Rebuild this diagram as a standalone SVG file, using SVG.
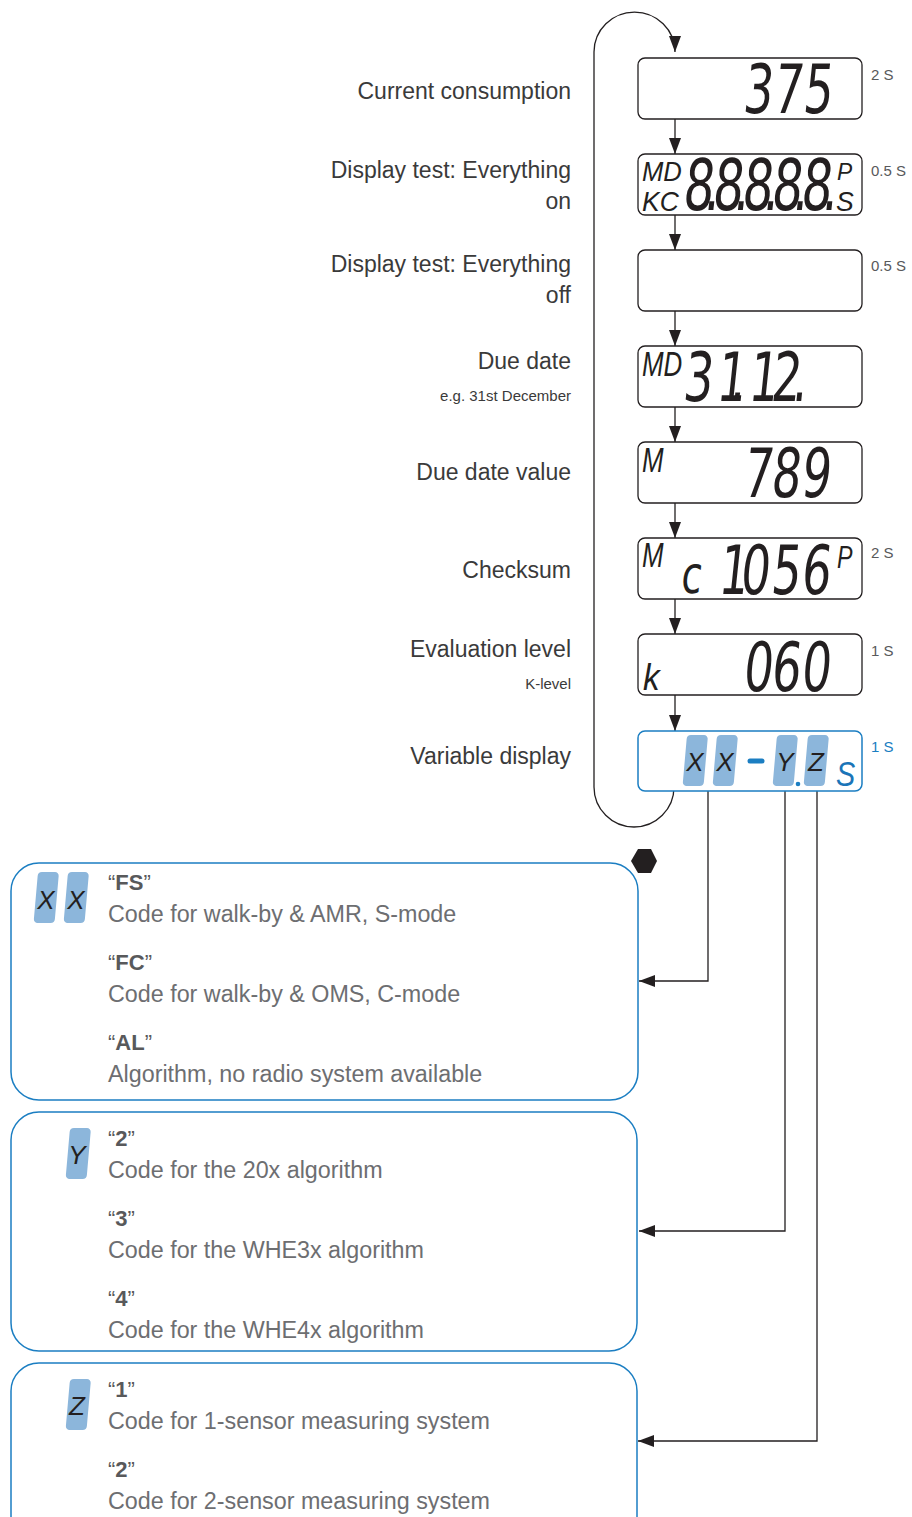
<svg xmlns="http://www.w3.org/2000/svg" width="912" height="1517" viewBox="0 0 912 1517">
<defs>
<marker id="ah" markerUnits="userSpaceOnUse" markerWidth="16" markerHeight="12" refX="16" refY="6" orient="auto"><path d="M0,0 L16,6 L0,12 z" fill="#231f20"/></marker>
</defs>
<style>
.lbl{font-family:"Liberation Sans",Arial,sans-serif;font-size:23px;fill:#3a3a3a;text-anchor:end}
.sm{font-size:15px}
.t{font-family:"Liberation Sans",Arial,sans-serif;font-size:15px;fill:#58595b}
.tb{fill:#1b7ec2}
.lcdbox{fill:#fff;stroke:#231f20;stroke-width:1.3}
.vbox{fill:#fff;stroke:#1b7ec2;stroke-width:1.5}
.lcd{font-family:"DejaVu Sans",sans-serif;font-size:68px;fill:#231f20}
.lcs{font-family:"Liberation Sans",Arial,sans-serif;font-style:italic;font-size:36px;fill:#231f20}
.hl{fill:#8cb6db}
.ltr{font-family:"Liberation Sans",Arial,sans-serif;font-style:italic;font-size:26px;fill:#231f20;text-anchor:middle}
.panel{fill:none;stroke:#1b7ec2;stroke-width:1.5}
.code{font-family:"Liberation Sans",Arial,sans-serif;font-size:22px;fill:#58595b}
.b{font-weight:bold}
.desc{font-family:"Liberation Sans",Arial,sans-serif;font-size:23.3px;fill:#6d6e71}
.conn{fill:none;stroke:#231f20;stroke-width:1.3}
</style>

<g id="connectors">
<path class="conn" d="M674,791 L674,787 A40,40 0 0 1 594,787 L594,52 A40.5,40 0 0 1 675,52" marker-end="url(#ah)"/>
<line class="conn" x1="675" y1="119" x2="675" y2="154" marker-end="url(#ah)"/>
<line class="conn" x1="675" y1="215" x2="675" y2="250" marker-end="url(#ah)"/>
<line class="conn" x1="675" y1="311" x2="675" y2="346" marker-end="url(#ah)"/>
<line class="conn" x1="675" y1="407" x2="675" y2="442" marker-end="url(#ah)"/>
<line class="conn" x1="675" y1="503" x2="675" y2="538" marker-end="url(#ah)"/>
<line class="conn" x1="675" y1="599" x2="675" y2="634" marker-end="url(#ah)"/>
<line class="conn" x1="675" y1="695" x2="675" y2="731" marker-end="url(#ah)"/>
<path class="conn" d="M708,791 V981 H639" marker-end="url(#ah)"/>
<path class="conn" d="M785,791 V1231 H639" marker-end="url(#ah)"/>
<path class="conn" d="M817,791 V1441 H638" marker-end="url(#ah)"/>
</g>

<g id="n1">
<text class="lbl" x="571" y="99">Current consumption</text>
<rect class="lcdbox" x="638" y="58" width="224" height="61" rx="7"/>
<text class="lcd" transform="translate(680,113) skewX(-6) scale(0.68,1)" x="91.1 135.2 179.3">375</text>
<text class="t" x="871" y="80">2 S</text>
</g>

<g id="n2">
<text class="lbl" x="571" y="178">Display test: Everything</text>
<text class="lbl" x="571" y="209">on</text>
<rect class="lcdbox" x="638" y="154" width="224" height="61" rx="7"/>
<text class="lcs" style="font-size:27px" transform="translate(642,181) scale(0.95,1)">MD</text>
<text class="lcs" style="font-size:27px" transform="translate(642,211) scale(0.98,1)">KC</text>
<text class="lcd" style="font-size:71px" transform="translate(680,210) skewX(-6) scale(0.68,1)" x="2.6 34.2 46.0 77.6 89.4 121.0 132.8 164.4 176.2 207.8">8.8.8.8.8.</text>
<text class="lcs" style="font-size:24px" transform="translate(837,180) scale(0.95,1)">P</text>
<text class="lcs" style="font-size:28px" transform="translate(836,211) scale(0.95,1)">S</text>
<text class="t" x="871" y="176">0.5 S</text>
</g>

<g id="n3">
<text class="lbl" x="571" y="272">Display test: Everything</text>
<text class="lbl" x="571" y="303">off</text>
<rect class="lcdbox" x="638" y="250" width="224" height="61" rx="7"/>
<text class="t" x="871" y="271">0.5 S</text>
</g>

<g id="n4">
<text class="lbl" x="571" y="369">Due date</text>
<text class="lbl sm" x="571" y="401">e.g. 31st December</text>
<rect class="lcdbox" x="638" y="346" width="224" height="61" rx="7"/>
<text class="lcs" transform="translate(642,376) scale(0.72,1)">MD</text>
<text class="lcd" transform="translate(680,401) skewX(-6) scale(0.68,1)" x="2.9 52.2 72.9 99.3 132.3 164.1">31.12.</text>
</g>

<g id="n5">
<text class="lbl" x="571" y="480">Due date value</text>
<rect class="lcdbox" x="638" y="442" width="224" height="61" rx="7"/>
<text class="lcs" transform="translate(642,472) scale(0.72,1)">M</text>
<text class="lcd" transform="translate(680,497) skewX(-6) scale(0.68,1)" x="91.1 132.3 176.4">789</text>
</g>

<g id="n6">
<text class="lbl" x="571" y="578">Checksum</text>
<rect class="lcdbox" x="638" y="538" width="224" height="61" rx="7"/>
<text class="lcs" transform="translate(642,567) scale(0.72,1)">M</text>
<text class="lcd" style="font-size:52px" transform="translate(680,593) skewX(-6) scale(0.72,1)">c</text>
<text class="lcd" transform="translate(680,594) skewX(-6) scale(0.68,1)" x="55.1 86.7 132.3 176.4">1056</text>
<text class="lcs" style="font-size:31px" transform="translate(837,568) scale(0.75,1)">P</text>
<text class="t" x="871" y="558">2 S</text>
</g>

<g id="n7">
<text class="lbl" x="571" y="657">Evaluation level</text>
<text class="lbl sm" x="571" y="689">K-level</text>
<rect class="lcdbox" x="638" y="634" width="224" height="61" rx="7"/>
<text class="lcs" style="font-size:37px" transform="translate(643,690) scale(0.9,1)">k</text>
<text class="lcd" transform="translate(680,691) skewX(-6) scale(0.68,1)" x="91.1 132.3 176.4">060</text>
<text class="t" x="871" y="656">1 S</text>
</g>

<g id="n8">
<text class="lbl" x="571" y="764">Variable display</text>
<rect class="vbox" x="638" y="731" width="224" height="60" rx="7"/>
<rect class="hl" x="0" y="0" width="21" height="51" rx="4" transform="translate(687,735) skewX(-5)"/>
<rect class="hl" x="0" y="0" width="21" height="51" rx="4" transform="translate(717,735) skewX(-5)"/>
<rect class="hl" x="0" y="0" width="21" height="51" rx="4" transform="translate(777,735) skewX(-5)"/>
<rect class="hl" x="0" y="0" width="21" height="51" rx="4" transform="translate(808,735) skewX(-5)"/>
<text class="ltr" x="695" y="771">X</text>
<text class="ltr" x="725" y="771">X</text>
<text class="ltr" x="785" y="771">Y</text>
<text class="ltr" x="816" y="771">Z</text>
<line x1="750" y1="761" x2="762" y2="761" stroke="#1b7ec2" stroke-width="5" stroke-linecap="round"/>
<circle cx="798" cy="784" r="2.3" fill="#1b7ec2"/>
<text class="lcs" style="fill:#1b75b8" transform="translate(836,786) scale(0.8,1)">S</text>
<text class="t tb" x="871" y="752">1 S</text>
</g>

<g id="hex">
<polygon points="631,861 638,849 651,849 657,861 651,873 638,873" fill="#231f20"/>
</g>

<g id="panelXX">
<rect class="panel" x="11" y="863" width="627" height="237" rx="28"/>
<rect class="hl" x="0" y="0" width="21" height="51" rx="4" transform="translate(38,872) skewX(-5)"/>
<rect class="hl" x="0" y="0" width="21" height="51" rx="4" transform="translate(68,872) skewX(-5)"/>
<text class="ltr" x="46" y="909">X</text>
<text class="ltr" x="76" y="909">X</text>
<text class="code" x="108" y="890">“<tspan class="b">FS</tspan>”</text>
<text class="desc" x="108" y="922">Code for walk-by &amp; AMR, S-mode</text>
<text class="code" x="108" y="970">“<tspan class="b">FC</tspan>”</text>
<text class="desc" x="108" y="1002">Code for walk-by &amp; OMS, C-mode</text>
<text class="code" x="108" y="1050">“<tspan class="b">AL</tspan>”</text>
<text class="desc" x="108" y="1082">Algorithm, no radio system available</text>
</g>

<g id="panelY">
<rect class="panel" x="11" y="1112" width="626" height="239" rx="28"/>
<rect class="hl" x="0" y="0" width="21" height="51" rx="4" transform="translate(70,1128) skewX(-5)"/>
<text class="ltr" x="77" y="1164">Y</text>
<text class="code" x="108" y="1146">“<tspan class="b">2</tspan>”</text>
<text class="desc" x="108" y="1178">Code for the 20x algorithm</text>
<text class="code" x="108" y="1226">“<tspan class="b">3</tspan>”</text>
<text class="desc" x="108" y="1258">Code for the WHE3x algorithm</text>
<text class="code" x="108" y="1306">“<tspan class="b">4</tspan>”</text>
<text class="desc" x="108" y="1338">Code for the WHE4x algorithm</text>
</g>

<g id="panelZ">
<rect class="panel" x="11" y="1363" width="626" height="200" rx="28"/>
<rect class="hl" x="0" y="0" width="21" height="51" rx="4" transform="translate(70,1379) skewX(-5)"/>
<text class="ltr" x="77" y="1415">Z</text>
<text class="code" x="108" y="1397">“<tspan class="b">1</tspan>”</text>
<text class="desc" x="108" y="1429">Code for 1-sensor measuring system</text>
<text class="code" x="108" y="1477">“<tspan class="b">2</tspan>”</text>
<text class="desc" x="108" y="1509">Code for 2-sensor measuring system</text>
</g>
</svg>
